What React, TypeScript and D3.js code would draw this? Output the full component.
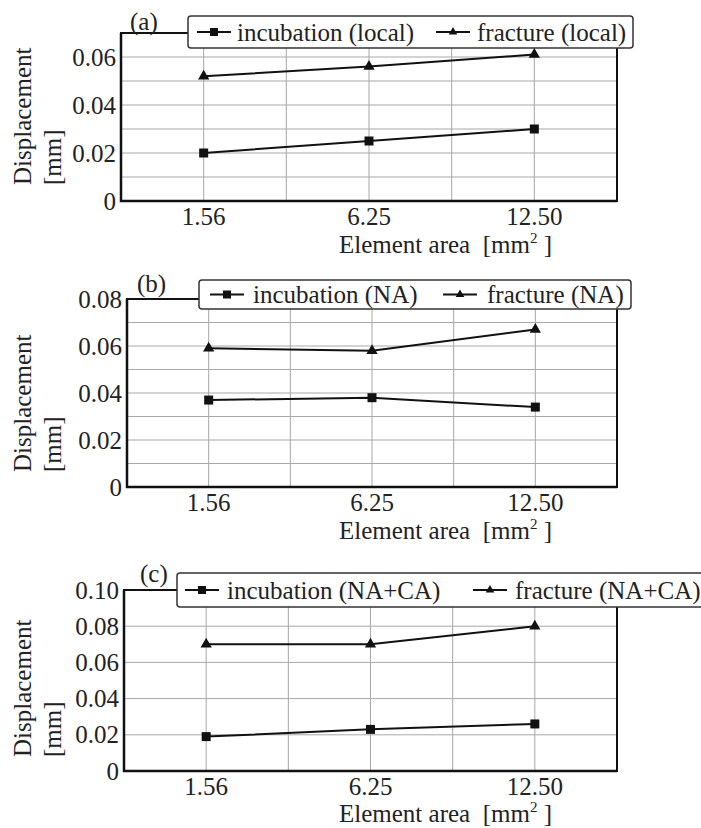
import React, { useEffect, useRef } from "react";
import * as d3 from "d3";

const categories = ["1.56", "6.25", "12.50"];

const incubationLocal = [0.02, 0.025, 0.03];
const fractureLocal = [0.052, 0.056, 0.061];
const incubationNA = [0.037, 0.038, 0.034];
const fractureNA = [0.059, 0.058, 0.067];
const incubationNACA = [0.019, 0.023, 0.026];
const fractureNACA = [0.07, 0.07, 0.08];

const seriesNamesA = ["incubation (local)", "fracture (local)"];
const seriesNamesB = ["incubation (NA)", "fracture (NA)"];
const seriesNamesC = ["incubation (NA+CA)", "fracture (NA+CA)"];

const yTicksA = [0, 0.02, 0.04, 0.06];
const yTicksB = [0, 0.02, 0.04, 0.06, 0.08];
const yTicksC = [0, 0.02, 0.04, 0.06, 0.08, 0.1];

const panelLetters = ["(a)", "(b)", "(c)"];
const yTitleLines = ["Displacement", "[mm]"];

const FONT = "'Liberation Serif', 'Times New Roman', serif";

const panels = [
  {
    letter: panelLetters[0],
    inc: incubationLocal,
    frac: fractureLocal,
    names: seriesNamesA,
    yTicks: yTicksA,
    yMax: 0.07,
    gridStep: 0.01,
    layout: {
      left: 121, right: 617, top: 33, bottom: 201,
      letterX: 130, letterY: 30,
      legend: { x0: 188, x1: 633, y0: 16, y1: 48, sym1: 197, text1: 237, sym2: 436, text2: 477 },
      xTitleY: 253, yTitleBottom: 185,
    },
  },
  {
    letter: panelLetters[1],
    inc: incubationNA,
    frac: fractureNA,
    names: seriesNamesB,
    yTicks: yTicksB,
    yMax: 0.08,
    gridStep: 0.01,
    layout: {
      left: 127, right: 617, top: 299, bottom: 487,
      letterX: 137, letterY: 292,
      legend: { x0: 199, x1: 631, y0: 280, y1: 309, sym1: 210, text1: 253, sym2: 443, text2: 487 },
      xTitleY: 539, yTitleBottom: 472,
    },
  },
  {
    letter: panelLetters[2],
    inc: incubationNACA,
    frac: fractureNACA,
    names: seriesNamesC,
    yTicks: yTicksC,
    yMax: 0.1,
    gridStep: 0.02,
    layout: {
      left: 124, right: 617, top: 590, bottom: 771,
      letterX: 140, letterY: 582,
      legend: { x0: 177, x1: 706, y0: 573, y1: 607, sym1: 185, text1: 227, sym2: 473, text2: 515 },
      xTitleY: 822, yTitleBottom: 757,
    },
  },
];

function drawPanel(svg: any, p: any) {
  const L = p.layout;
  const g = svg.append("g");
  const x = d3.scaleLinear().domain([-0.5, categories.length - 0.5]).range([L.left, L.right]);
  const y = d3.scaleLinear().domain([0, p.yMax]).range([L.bottom, L.top]);

  // horizontal grid
  const hGrid = d3.range(p.gridStep, p.yMax - 1e-9, p.gridStep);
  g.selectAll(".hg")
    .data(hGrid)
    .join("line")
    .attr("x1", L.left)
    .attr("x2", L.right)
    .attr("y1", (d: number) => y(d))
    .attr("y2", (d: number) => y(d))
    .attr("stroke", "#a8a8a8")
    .attr("stroke-width", 1);

  // vertical grid
  const vGrid = d3.range(0, categories.length - 0.99, 0.5);
  g.selectAll(".vg")
    .data(vGrid)
    .join("line")
    .attr("x1", (d: number) => x(d))
    .attr("x2", (d: number) => x(d))
    .attr("y1", L.top)
    .attr("y2", L.bottom)
    .attr("stroke", "#a8a8a8")
    .attr("stroke-width", 1);

  // frame
  g.append("rect")
    .attr("x", L.left)
    .attr("y", L.top)
    .attr("width", L.right - L.left)
    .attr("height", L.bottom - L.top)
    .attr("fill", "none")
    .attr("stroke", "#111")
    .attr("stroke-width", 2);
  g.append("path")
    .attr("d", `M${L.left},${L.top}V${L.bottom}H${L.right}`)
    .attr("fill", "none")
    .attr("stroke", "#111")
    .attr("stroke-width", 2.5);

  // y tick labels
  g.selectAll(".yt")
    .data(p.yTicks)
    .join("text")
    .attr("x", L.left - 5)
    .attr("y", (d: number) => y(d) + 8.5)
    .attr("text-anchor", "end")
    .attr("font-family", FONT)
    .attr("font-size", 25)
    .attr("fill", "#222")
    .text((d: number) => (d === 0 ? "0" : d.toFixed(2)));

  // x tick labels
  g.selectAll(".xt")
    .data(categories)
    .join("text")
    .attr("x", (_: string, i: number) => x(i))
    .attr("y", L.bottom + 24)
    .attr("text-anchor", "middle")
    .attr("font-family", FONT)
    .attr("font-size", 25)
    .attr("fill", "#222")
    .text((d: string) => d);

  // x title
  const xt = g.append("text")
    .attr("x", 339)
    .attr("y", L.xTitleY)
    .attr("font-family", FONT)
    .attr("font-size", 25)
    .attr("fill", "#222")
    .attr("xml:space", "preserve")
    .style("white-space", "pre");
  xt.append("tspan").text("Element area  [mm");
  xt.append("tspan").attr("dy", -10).attr("font-size", 15).text("2");
  xt.append("tspan").attr("dy", 10).text(" ]");

  // y title
  yTitleLines.forEach((line, i) => {
    g.append("text")
      .attr("transform", `translate(${31 + i * 30},${L.yTitleBottom}) rotate(-90)`)
      .attr("text-anchor", "start")
      .attr("font-family", FONT)
      .attr("font-size", 25)
      .attr("fill", "#222")
      .text(line);
  });

  // series
  const line = d3.line<number>().x((_, i) => x(i)).y((d) => y(d));
  [p.inc, p.frac].forEach((vals: number[]) => {
    g.append("path")
      .attr("d", line(vals))
      .attr("fill", "none")
      .attr("stroke", "#111")
      .attr("stroke-width", 2);
  });
  g.selectAll(".sq")
    .data(p.inc)
    .join("rect")
    .attr("x", (_: number, i: number) => x(i) - 4.5)
    .attr("y", (d: number) => y(d) - 4.5)
    .attr("width", 9)
    .attr("height", 9)
    .attr("fill", "#111");
  const tri = d3.symbol().type(d3.symbolTriangle).size(55);
  g.selectAll(".tr")
    .data(p.frac)
    .join("path")
    .attr("d", tri() as string)
    .attr("transform", (d: number, i: number) => `translate(${x(i)},${y(d)})`)
    .attr("fill", "#111");

  // panel letter
  g.append("text")
    .attr("x", L.letterX)
    .attr("y", L.letterY)
    .attr("font-family", FONT)
    .attr("font-size", 25)
    .attr("fill", "#222")
    .text(p.letter);

  // legend
  const lg = L.legend;
  g.append("rect")
    .attr("x", lg.x0)
    .attr("y", lg.y0)
    .attr("width", lg.x1 - lg.x0)
    .attr("height", lg.y1 - lg.y0)
    .attr("rx", 3)
    .attr("fill", "#fff")
    .attr("stroke", "#333")
    .attr("stroke-width", 1.5);
  const cy = (lg.y0 + lg.y1) / 2;
  const symLen = 34;
  [
    { sx: lg.sym1, tx: lg.text1, name: p.names[0], kind: "sq" },
    { sx: lg.sym2, tx: lg.text2, name: p.names[1], kind: "tri" },
  ].forEach((it) => {
    g.append("line")
      .attr("x1", it.sx)
      .attr("x2", it.sx + symLen)
      .attr("y1", cy)
      .attr("y2", cy)
      .attr("stroke", "#111")
      .attr("stroke-width", 2);
    const mx = it.sx + symLen / 2;
    if (it.kind === "sq") {
      g.append("rect")
        .attr("x", mx - 4)
        .attr("y", cy - 4)
        .attr("width", 8)
        .attr("height", 8)
        .attr("fill", "#111");
    } else {
      g.append("path")
        .attr("d", d3.symbol().type(d3.symbolTriangle).size(32)() as string)
        .attr("transform", `translate(${mx},${cy})`)
        .attr("fill", "#111");
    }
    g.append("text")
      .attr("x", it.tx)
      .attr("y", cy + 8.5)
      .attr("font-family", FONT)
      .attr("font-size", 25)
      .attr("fill", "#222")
      .text(it.name);
  });
}

export default function App() {
  const ref = useRef<SVGSVGElement>(null);
  useEffect(() => {
    const svg = d3.select(ref.current);
    svg.selectAll("*").remove();
    svg.append("rect").attr("width", 701).attr("height", 828).attr("fill", "#fff");
    panels.forEach((p) => drawPanel(svg, p));
  }, []);
  return (
    <svg
      ref={ref}
      width={701}
      height={828}
      style={{ position: "absolute", left: 0, top: 0, display: "block" }}
    />
  );
}
